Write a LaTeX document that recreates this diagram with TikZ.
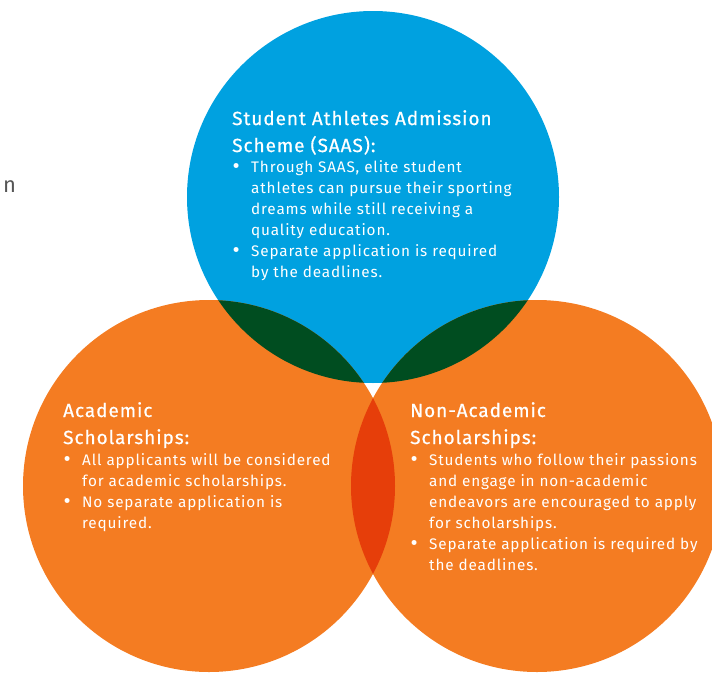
\documentclass[tikz,border=0pt]{standalone}
\usepackage{fontspec}
\setmainfont{Fira Sans}[LetterSpace=5.5]
\newfontfamily\headfont{Fira Sans}[LetterSpace=5, FakeBold=0.6]
\usetikzlibrary{positioning}
\definecolor{saasblue}{RGB}{0,161,224}
\definecolor{schorange}{RGB}{244,124,34}
\definecolor{lensgreen}{RGB}{0,77,32}
\definecolor{lensred}{RGB}{230,62,10}
\definecolor{straygray}{RGB}{85,85,85}
\tikzstyle{heading} = [white, anchor=north west, inner sep=0pt, align=left, font=\headfont\fontsize{19}{27}\selectfont]
\tikzstyle{points}  = [white, anchor=north west, inner sep=0pt, align=left, font=\fontsize{15.3}{21}\selectfont]
\newcommand{\itm}{\makebox[19pt][l]{\hspace{0.5pt}\raisebox{-1.2pt}{\fontsize{22}{21}\selectfont\textbullet}}}
\newcommand{\ind}{\hspace*{19pt}}

\begin{document}
\begin{tikzpicture}[x=1pt, y=-1pt]
  \useasboundingbox (0,0) rectangle (712,672);
  \coordinate (saasC) at (373,197);
  \coordinate (acadC) at (209,486);
  \coordinate (nonC)  at (537,486);
  % the three circles
  \fill[saasblue]  (saasC) circle (186pt);
  \fill[schorange] (acadC) circle (186pt);
  \fill[schorange] (nonC)  circle (186pt);
  % overlaps
  \begin{scope}
    \clip (saasC) circle (186pt);
    \fill[lensgreen] (acadC) circle (186pt);
    \fill[lensgreen] (nonC) circle (186pt);
  \end{scope}
  \begin{scope}
    \clip (acadC) circle (186pt);
    \fill[lensred] (nonC) circle (186pt);
  \end{scope}
  % texts
  \node[straygray, anchor=base west, inner sep=0pt, font=\fontsize{22}{26}\selectfont] (stray) at (3,192) {n};
  \node[heading] (saasHead) at (232,110) {Student Athletes Admission\\Scheme (SAAS):};
  \node[points, below=5.5pt of saasHead.south west, anchor=north west] (saasList)
    {\itm Through SAAS, elite student\\\ind athletes can pursue their sporting\\\ind dreams while still receiving a\\\ind quality education.\\\itm Separate application is required\\\ind by the deadlines.};
  \node[heading] (acadHead) at (63,402) {Academic\\Scholarships:};
  \node[points, below=5pt of acadHead.south west, anchor=north west] (acadList)
    {\itm All applicants will be considered\\\ind for academic scholarships.\\\itm No separate application is\\\ind required.};
  \node[heading] (nonHead) at (410,402) {Non-Academic\\Scholarships:};
  \node[points, below=5pt of nonHead.south west, anchor=north west] (nonList)
    {\itm Students who follow their passions\\\ind and engage in non-academic\\\ind endeavors are encouraged to apply\\\ind for scholarships.\\\itm Separate application is required by\\\ind the deadlines.};
\end{tikzpicture}
\end{document}
